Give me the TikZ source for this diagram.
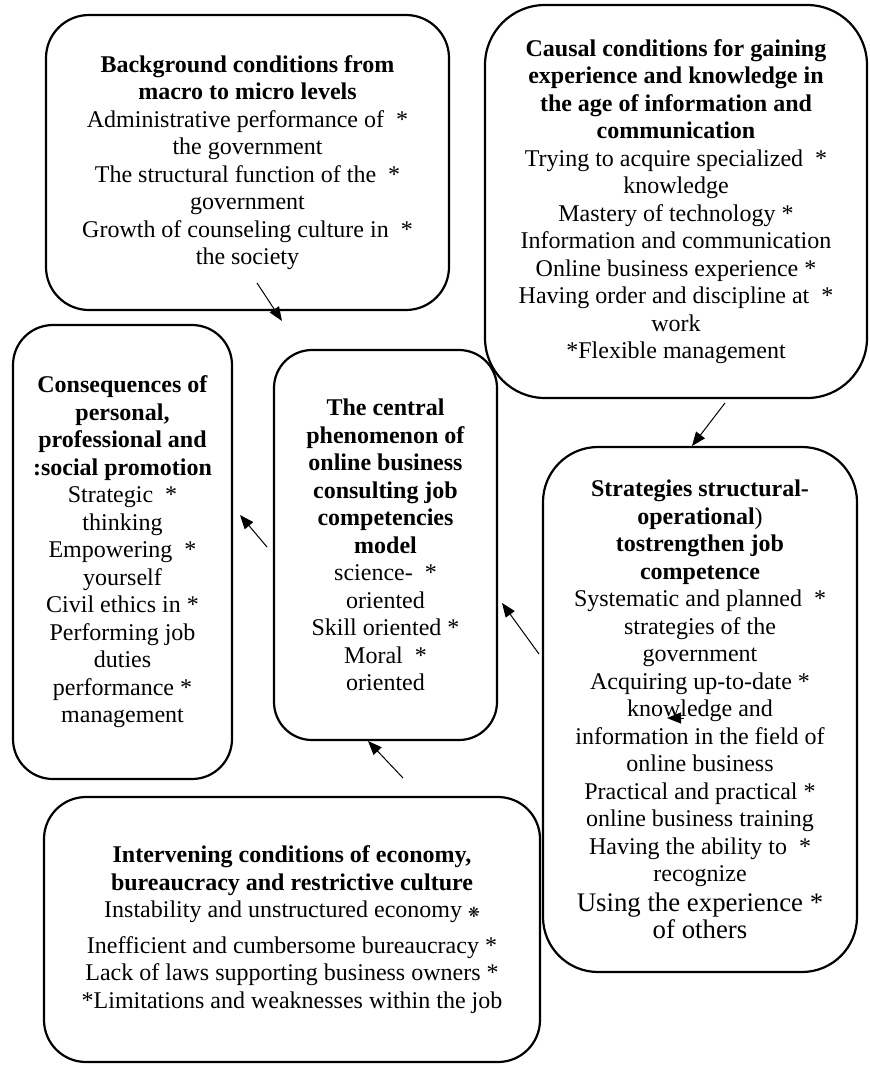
\documentclass[tikz,border=0pt]{standalone}
\usepackage{fontspec}
\setmainfont{Liberation Serif}
\newfontfamily\symfont{DejaVu Sans}
\usetikzlibrary{arrows.meta}
\tikzset{
  stage/.style={draw,line width=1.1pt,align=center,inner sep=0pt,font=\fontsize{12}{13.75}\selectfont},
  link/.style={-{Triangle[length=7pt,width=5.5pt]},line width=0.5pt},
}
\begin{document}
\begin{tikzpicture}[x=0.5pt,y=-0.5pt]
\useasboundingbox (0,0) rectangle (869,1066);
% boxes of the paradigm model
\node[stage,rounded corners=21.5pt,minimum width=201.5pt,minimum height=147.5pt] (background) at (247.5,162.5)
 {\textbf{Background conditions from}\\ \textbf{macro to micro levels}\\
  Administrative performance of ~*\\ the government\\ The structural function of the ~*\\ government\\
  Growth of counseling culture in ~*\\ the society};
\node[stage,rounded corners=30pt,minimum width=191pt,minimum height=196.5pt] (causal) at (676,201.5)
 {\textbf{Causal conditions for gaining}\\ \textbf{experience and knowledge in}\\ \textbf{the age of information and}\\ \textbf{communication}\\
  Trying to acquire specialized ~*\\ knowledge\\ Mastery of technology *\\ Information and communication\\
  Online business experience *\\ Having order and discipline at ~*\\ work\\ *Flexible management};
\node[stage,rounded corners=20pt,minimum width=109.5pt,minimum height=227pt] (conseq) at (122.5,552)
 {\textbf{Consequences of}\\ \textbf{personal,}\\ \textbf{professional and}\\ \textbf{:social promotion}\\
  Strategic ~*\\ thinking\\ Empowering ~*\\ yourself\\ Civil ethics in *\\ Performing job\\ duties\\
  performance *\\ management};
\node[stage,rounded corners=19pt,minimum width=111.5pt,minimum height=195pt] (central) at (385.5,545)
 {\textbf{The central}\\ \textbf{phenomenon of}\\ \textbf{online business}\\ \textbf{consulting job}\\ \textbf{competencies}\\ \textbf{model}\\
  science- ~*\\ oriented\\ Skill oriented *\\ Moral ~*\\ oriented};
\node[stage,rounded corners=27.5pt,minimum width=157pt,minimum height=262.5pt] (strat) at (700,709.5)
 {\textbf{Strategies structural-}\\ \textbf{operational})\\ \textbf{tostrengthen job}\\ \textbf{competence}\\
  Systematic and planned ~*\\ strategies of the\\ government\\ Acquiring up-to-date *\\ knowledge and\\
  information in the field of\\ online business\\ Practical and practical *\\ online business training\\
  Having the ability to ~*\\ recognize\\[1pt]
  {\fontsize{13.4}{15}\selectfont Using the experience *}\\ {\fontsize{13.4}{15}\selectfont of others}};
\node[stage,rounded corners=21pt,minimum width=248pt,minimum height=132.5pt] (interv) at (292,929.5)
 {\textbf{Intervening conditions of economy,}\\ \textbf{bureaucracy and restrictive culture}\\
  Instability and unstructured economy {\symfont\fontsize{7}{8}\selectfont ❋}\\[4pt]
  Inefficient and cumbersome bureaucracy *\\ Lack of laws supporting business owners *\\
  *Limitations and weaknesses within the job};
% arrow ends
\coordinate (bg out) at (257,283);   \coordinate (bg in) at (282,321);
\coordinate (cs out) at (725,403);   \coordinate (cs in) at (692,446);
\coordinate (ct out) at (267,547);   \coordinate (ct in) at (240,515);
\coordinate (st out) at (539,654);   \coordinate (st in) at (502,603);
\coordinate (iv out) at (403,778);   \coordinate (iv in) at (368,741);
\coordinate (kn out) at (684,718);   \coordinate (kn in) at (667,718);
\draw[link] (bg out) -- (bg in);
\draw[link] (cs out) -- (cs in);
\draw[link] (ct out) -- (ct in);
\draw[link] (st out) -- (st in);
\draw[link] (iv out) -- (iv in);
\draw[link] (kn out) -- (kn in);
\end{tikzpicture}
\end{document}
